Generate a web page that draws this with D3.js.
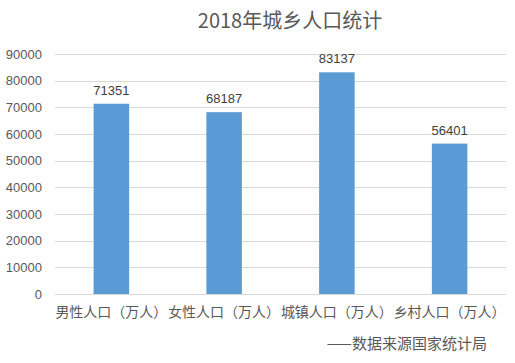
<!DOCTYPE html>
<html>
<head>
<meta charset="utf-8">
<script src="https://cdn.jsdelivr.net/npm/d3@7"></script>
<style>
  body { margin: 0; background: #fff; }
  text { font-family: "Noto Sans CJK SC", "Liberation Sans", sans-serif; fill: #595959; }
</style>
</head>
<body>
<div class="chart"></div>
<script>
var categories = ["男性人口（万人）", "女性人口（万人）", "城镇人口（万人）", "乡村人口（万人）"];
var values = [71351, 68187, 83137, 56401];
var yTicks = [0, 10000, 20000, 30000, 40000, 50000, 60000, 70000, 80000, 90000];
var title = "2018年城乡人口统计";
var note = "——数据来源国家统计局";

var width = 515, height = 363;
var plotLeft = 55, plotRight = 506, plotTop = 54, plotBottom = 294;

var svg = d3.select(".chart").append("svg")
  .attr("width", width)
  .attr("height", height);

var x = d3.scaleBand().domain(categories).range([plotLeft, plotRight])
  .paddingInner(0.685).paddingOuter(0.3425);
var y = d3.scaleLinear().domain([0, 90000]).range([plotBottom, plotTop]);

// gridlines
svg.selectAll("line.grid").data(yTicks).enter().append("line")
  .attr("class", "grid")
  .attr("x1", plotLeft).attr("x2", plotRight)
  .attr("y1", function(d) { return Math.round(y(d)) + 0.5; })
  .attr("y2", function(d) { return Math.round(y(d)) + 0.5; })
  .attr("stroke", "#d9d9d9")
  .attr("stroke-width", 1);

// y tick labels
svg.selectAll("text.ytick").data(yTicks).enter().append("text")
  .attr("class", "ytick")
  .attr("x", 42)
  .attr("y", function(d) { return y(d) + 4.5; })
  .attr("text-anchor", "end")
  .style("font-family", "'Liberation Sans', Arial, sans-serif")
  .style("font-size", "13px")
  .text(function(d) { return d; });

// bars
svg.selectAll("rect.bar").data(values).enter().append("rect")
  .attr("class", "bar")
  .attr("x", function(d, i) { return x(categories[i]); })
  .attr("width", x.bandwidth())
  .attr("y", function(d) { return y(d); })
  .attr("height", function(d) { return plotBottom - y(d); })
  .attr("fill", "#5b9bd5");

// value labels
svg.selectAll("text.val").data(values).enter().append("text")
  .attr("class", "val")
  .attr("x", function(d, i) { return x(categories[i]) + x.bandwidth() / 2; })
  .attr("y", function(d) { return y(d) - 9; })
  .attr("text-anchor", "middle")
  .style("font-family", "'Liberation Sans', Arial, sans-serif")
  .style("font-size", "13px")
  .style("fill", "#404040")
  .text(function(d) { return d; });

// category labels
svg.selectAll("text.cat").data(categories).enter().append("text")
  .attr("class", "cat")
  .attr("x", function(d) { return x(d) + x.bandwidth() / 2; })
  .attr("y", 317)
  .attr("text-anchor", "middle")
  .style("font-size", "14px")
  .text(function(d) { return d; });

// title
svg.append("text")
  .attr("x", 290).attr("y", 28)
  .attr("text-anchor", "middle")
  .style("font-size", "20px")
  .text(title);

// source note
svg.append("text")
  .attr("x", 487).attr("y", 349)
  .attr("text-anchor", "end")
  .style("font-size", "15px")
  .text(note);
</script>
</body>
</html>
